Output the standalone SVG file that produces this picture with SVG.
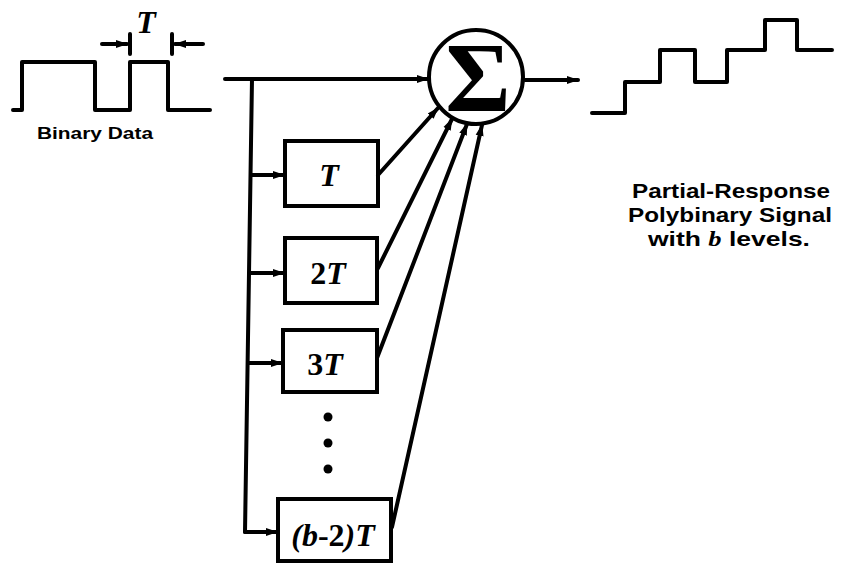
<svg xmlns="http://www.w3.org/2000/svg" width="842" height="564" viewBox="0 0 842 564">
<defs>
<marker id="ah" viewBox="0 0 12 10" refX="11" refY="5" markerWidth="12" markerHeight="10" markerUnits="userSpaceOnUse" orient="auto">
<path d="M0,1 L12,5 L0,9 z" fill="#000"/>
</marker>
<style>
.ln{fill:none;stroke:#000;stroke-width:4;stroke-linejoin:round;stroke-linecap:round}
.box{fill:#fff;stroke:#000;stroke-width:4}
.lbl{font-family:"Liberation Serif",serif;font-weight:bold;font-style:italic;font-size:32px;text-anchor:middle}
.up{font-style:normal}
.cap{font-family:"Liberation Sans",Arial,sans-serif;font-weight:bold;text-anchor:middle}
</style>
</defs>
<rect width="842" height="564" fill="#fff"/>
<g id="binary-data">
<path class="ln" d="M13,110 L22,110 L22,62 L95,62 L95,110 L130,110 L130,62 L168,62 L168,110 L210,110"/>
<text class="cap" x="95" y="139" font-size="16" textLength="116" lengthAdjust="spacingAndGlyphs">Binary Data</text>
</g>
<g id="period-marker">
<text class="lbl" x="146" y="33" font-size="30">T</text>
<line class="ln" x1="130" y1="34" x2="130" y2="54"/>
<line class="ln" x1="172" y1="34" x2="172" y2="54"/>
<line class="ln" x1="102" y1="44" x2="127" y2="44" marker-end="url(#ah)"/>
<line class="ln" x1="203" y1="44" x2="175" y2="44" marker-end="url(#ah)"/>
</g>
<g id="sum">
<circle cx="476" cy="77" r="47" fill="#fff" stroke="#000" stroke-width="4"/>
<text x="478" y="111" font-family="'Liberation Serif',serif" font-weight="bold" font-size="100" text-anchor="middle">Σ</text>
</g>
<g id="delay-T">
<rect class="box" x="285" y="141" width="93" height="65"/>
<text class="lbl" x="329" y="186">T</text>
</g>
<g id="delay-2T">
<rect class="box" x="285" y="238" width="92" height="65"/>
<text class="lbl" x="328" y="284"><tspan class="up">2</tspan>T</text>
</g>
<g id="delay-3T">
<rect class="box" x="283" y="330" width="94" height="62"/>
<text class="lbl" x="325" y="375"><tspan class="up">3</tspan>T</text>
</g>
<g id="dots">
<circle cx="328" cy="417" r="4.5"/>
<circle cx="328" cy="443" r="4.5"/>
<circle cx="328" cy="469" r="4.5"/>
</g>
<g id="delay-b2T">
<rect class="box" x="278" y="499" width="113" height="62"/>
<text class="lbl" x="333" y="546">(b<tspan class="up">-2</tspan>)T</text>
</g>
<g id="output-signal">
<path class="ln" d="M592,113 L625,113 L625,82 L660,82 L660,50 L695,50 L695,82 L727,82 L727,50 L765,50 L765,20 L797,20 L797,50 L832,50"/>
<text class="cap" x="731" y="198" font-size="21" textLength="198" lengthAdjust="spacingAndGlyphs">Partial-Response</text>
<text class="cap" x="730" y="222" font-size="21" textLength="204" lengthAdjust="spacingAndGlyphs">Polybinary Signal</text>
<text class="cap" x="729" y="246" font-size="21" textLength="162" lengthAdjust="spacingAndGlyphs">with <tspan font-style="italic" font-family="'Liberation Serif',serif">b</tspan> levels.</text>
</g>
<g id="connectors">
<line class="ln" x1="225" y1="79" x2="428" y2="79" marker-end="url(#ah)"/>
<path class="ln" d="M252,79 L245,532"/>
<line class="ln" x1="251" y1="175" x2="284" y2="175" marker-end="url(#ah)"/>
<line class="ln" x1="250" y1="273" x2="284" y2="273" marker-end="url(#ah)"/>
<line class="ln" x1="248" y1="363" x2="282" y2="363" marker-end="url(#ah)"/>
<line class="ln" x1="245" y1="532" x2="277" y2="532" marker-end="url(#ah)"/>
<line class="ln" x1="525" y1="80" x2="578" y2="80" marker-end="url(#ah)"/>
<line class="ln" x1="378" y1="175" x2="438" y2="108" marker-end="url(#ah)"/>
<line class="ln" x1="378" y1="268" x2="452" y2="119" marker-end="url(#ah)"/>
<line class="ln" x1="377" y1="358" x2="467" y2="124" marker-end="url(#ah)"/>
<line class="ln" x1="392" y1="527" x2="482" y2="125" marker-end="url(#ah)"/>
</g>
</svg>
